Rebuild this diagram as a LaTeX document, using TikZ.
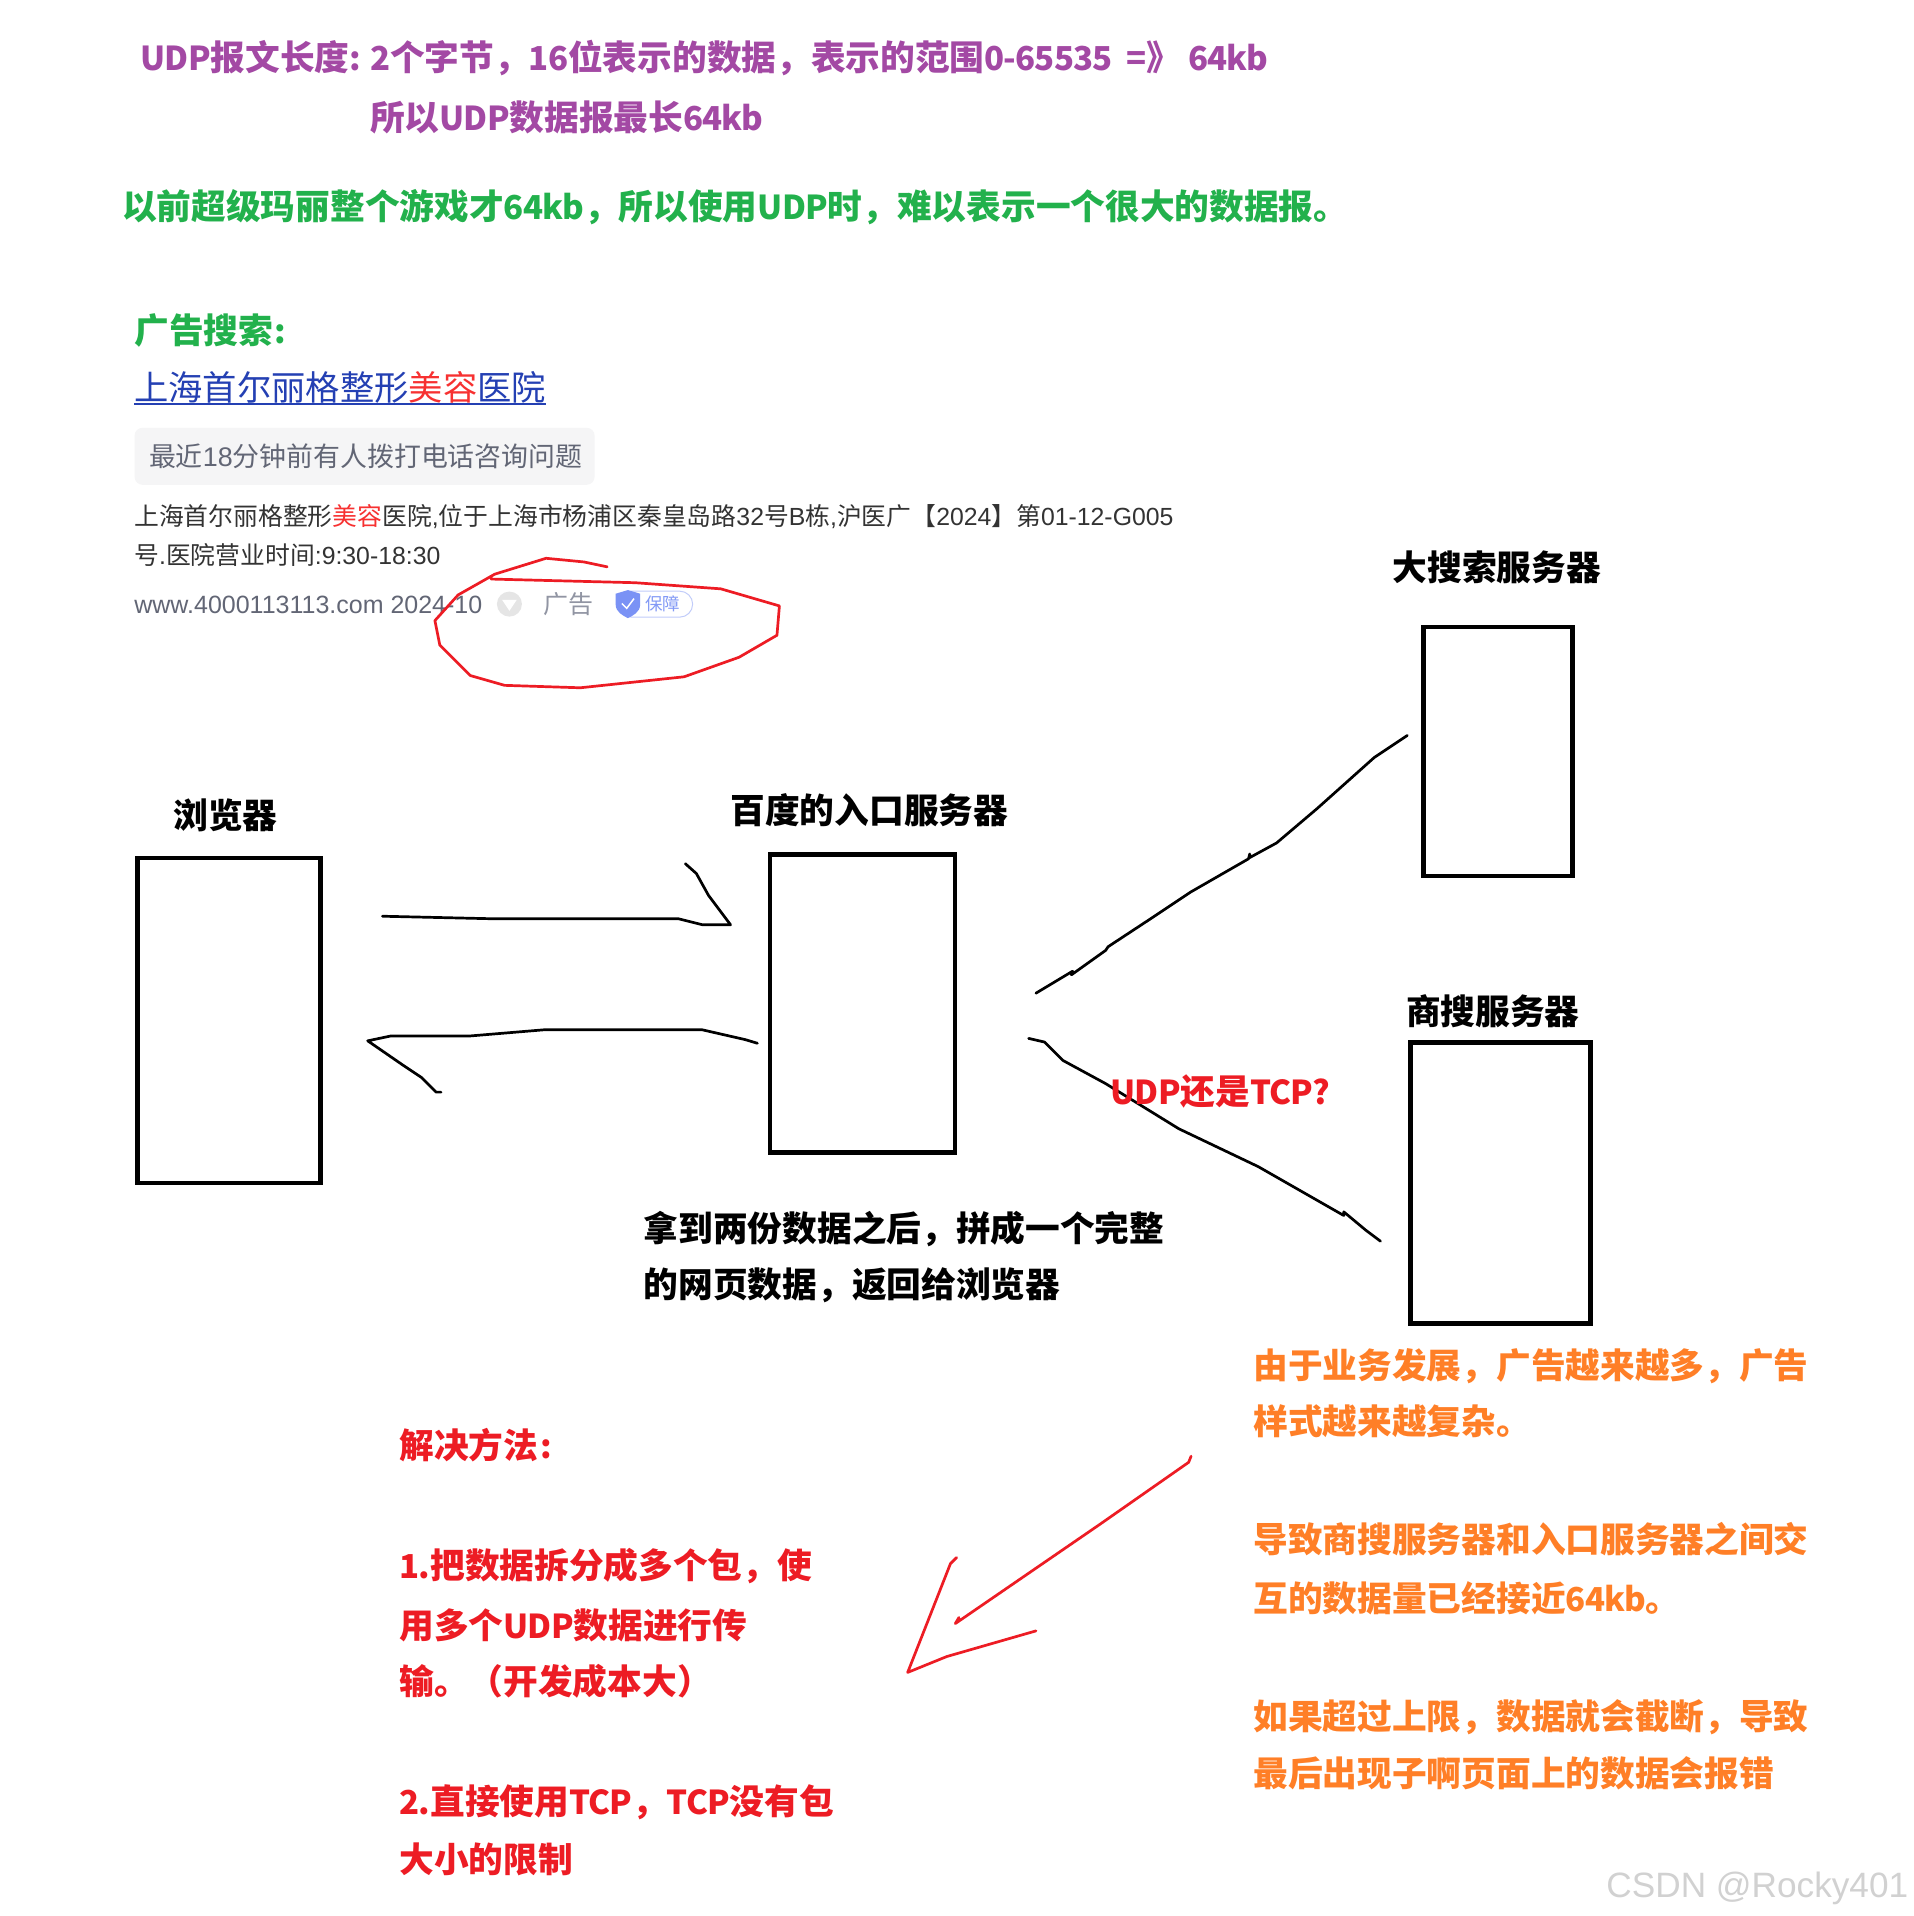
\documentclass[tikz,border=0pt]{standalone}
\usepackage{fontspec}
\setmainfont{Noto Sans CJK SC}
\newfontfamily\latinfont{Liberation Sans}
\newfontfamily\ltfont[Scale=0.95,LetterSpace=-2.5]{Noto Sans CJK SC}
\newcommand{\lb}[1]{{\ltfont\bfseries #1}}
\newcommand{\lr}[1]{{\latinfont #1}}
\definecolor{cpurple}{HTML}{A349A4}
\definecolor{cgreen}{HTML}{22B14C}
\definecolor{corange}{HTML}{FF7F27}
\definecolor{cred}{HTML}{ED1C24}
\definecolor{clink}{HTML}{2440B3}
\definecolor{chot}{HTML}{F73131}
\definecolor{cbody}{HTML}{333333}
\definecolor{cgrey}{HTML}{626675}
\definecolor{cpale}{HTML}{9195A3}
\definecolor{cpill}{HTML}{F5F5F6}
\definecolor{cshield}{HTML}{4E6EF2}
\newcommand{\bigfont}{\fontsize{34.7}{40}\selectfont\bfseries}
\tikzset{
  txt/.style={anchor=base west,inner sep=0pt,outer sep=0pt},
  heading/.style={txt,font=\bigfont},
  purpletext/.style={heading,text=cpurple},
  greentext/.style={heading,text=cgreen},
  blacktext/.style={heading,text=black},
  orangetext/.style={heading,text=corange},
  redtext/.style={heading,text=cred},
  server/.style={draw=black,line width=4.6pt,fill=white},
  inkblack/.style={draw=black,line width=2.7pt,line join=round,line cap=round},
  inkred/.style={draw=cred,line width=2.7pt,line join=round,line cap=round},
  small/.style={txt,font=\fontsize{24.8}{30}\selectfont,text=cbody},
}
\begin{document}
\begin{tikzpicture}[x=1.2216pt,y=-1.2216pt]
\useasboundingbox (0,0) rectangle (1566,1568.4);
\fill[white] (0,0) rectangle (1566,1568.4);

% top notes
\node[purpletext] (t1) at (115,58) {\lb{UDP}报文长度\lb{: 2}个字节，\lb{16}位表示的数据，表示的范围\lb{0-65535}\hspace{7pt}\lb{ =}》\hspace{7pt}\lb{64kb}};
\node[purpletext] (t2) at (303,107) {所以\lb{UDP}数据报最长\lb{64kb}};
\node[greentext] (t3) at (100,180) {以前超级玛丽整个游戏才\lb{64kb}，所以使用\lb{UDP}时，难以表示一个很大的数据报。};

% search advert
\node[greentext] (adhead) at (110,281) {广告搜索\lb{\hspace{1pt}:}};
\node[txt,font=\fontsize{34.3}{40}\selectfont,text=clink] (adlink) at (110,328)
  {上海首尔丽格整形\textcolor{chot}{美容}医院};
\coordinate (ulL) at (110,330.5);
\coordinate (ulR) at (447,330.5);
\draw[clink,line width=2pt] (ulL) -- (ulR);
\node[fill=cpill,rounded corners=8pt,anchor=north west,minimum width=460pt,minimum height=57pt,inner sep=0pt] (adpill) at (110,350) {};
\node[txt,font=\fontsize{26.9}{32}\selectfont,text=cgrey] (adrecent) at (122,382) {最近\lr{18}分钟前有人拨打电话咨询问题};
\node[small] (adbody1) at (110,430) {上海首尔丽格整形\textcolor{chot}{美容}医院\lr{,}位于上海市杨浦区秦皇岛路\lr{32}号\lr{B}栋\lr{,}沪医广【\lr{2024}】第\lr{01-12-G005}};
\node[small] (adbody2) at (110,462) {号\lr{.}医院营业时间\lr{:9:30-18:30}};
\node[txt,font=\latinfont\fontsize{25}{30}\selectfont,text=cgrey] (adurl) at (110,502) {www.4000113113.com 2024-10};
\node[circle,fill=black!10,minimum size=25pt,inner sep=0pt] (addrop) at (417,494.5) {};
\fill[white] (411,491) -- (423,491) -- (417,500) -- cycle;
\node[txt,font=\fontsize{25}{30}\selectfont,text=cpale] (adtag) at (445,502) {广告};
\node[draw=cshield!35,rounded corners=13pt,line width=1pt,anchor=north west,minimum width=74pt,minimum height=26pt,inner sep=0pt] (adguard) at (506,483.5) {};
\fill[cshield!75] (504,486) -- (514,483) -- (524,486) -- (524,495) .. controls (524,501) and (518,504) .. (514,506) .. controls (510,504) and (504,501) .. (504,495) -- cycle;
\draw[white,line width=1.5pt] (509,494) -- (513,498) -- (519,490);
\node[txt,font=\fontsize{17.5}{20}\selectfont,text=cshield!70] (adguardtxt) at (528,500) {保障};

% red loop
\coordinate (loopA) at (497,464);
\coordinate (loopB) at (402,474);
\draw[inkred] (loopA) -- (478,460) -- (447,457) -- (405,470) -- (375,487) -- (356,508) -- (360,528) -- (385,553) -- (413,561) -- (475,563) -- (560,554) -- (605,538) -- (636,520) -- (638,496) -- (590,482) -- (520,477) -- (loopB);

% servers
\node[server,anchor=north west,minimum width=183pt,minimum height=325pt,inner sep=0pt] (browser) at (110.5,700.5) {};
\node[server,anchor=north west,minimum width=185pt,minimum height=298pt,inner sep=0pt] (entry) at (628.5,697.5) {};
\node[server,anchor=north west,minimum width=149pt,minimum height=249pt,inner sep=0pt] (bigsearch) at (1163.5,511.5) {};
\node[server,anchor=north west,minimum width=180pt,minimum height=281pt,inner sep=0pt] (adsearch) at (1152.5,851.5) {};

\node[blacktext] (lbrowser) at (142,678) {浏览器};
\node[blacktext] (lentry) at (598,674) {百度的入口服务器};
\node[blacktext] (lbig) at (1140,475) {大搜索服务器};
\node[blacktext] (lad) at (1151,839) {商搜服务器};

% hand-drawn connectors
\coordinate (a1s) at (313,750);
\coordinate (a1e) at (561,707);
\draw[inkblack] (a1s) -- (400,752) -- (555,752) -- (575,757) -- (598,757) -- (580,733) -- (570,715) -- (a1e);
\coordinate (a2s) at (620,854);
\coordinate (a2e) at (361,894);
\draw[inkblack] (a2s) -- (610,851) -- (575,843) -- (500,843) -- (445,843) -- (385,848) -- (320,848) -- (301,852) -- (330,872) -- (345,882) -- (357,894) -- (a2e);
\coordinate (l1s) at (848,813);
\coordinate (l1e) at (1152,602);
\draw[inkblack] (l1s) -- (878,795) -- (877,798) -- (905,778) -- (907,775) -- (945,750) -- (975,730) -- (1022,703) -- (1023,699) -- (1023,702) -- (1045,690) -- (1078,662) -- (1125,620) -- (l1e);
\coordinate (l2s) at (842,850);
\coordinate (l2e) at (1130,1016);
\draw[inkblack] (l2s) -- (855,853) -- (870,868) -- (905,887) -- (965,924) -- (1030,955) -- (1100,995) -- (1100,992) -- (1118,1007) -- (l2e);

\node[redtext] (proto) at (909,904) {\lb{UDP}还是\lb{TCP?}};

\node[blacktext] (merge1) at (527,1016) {拿到两份数据之后，拼成一个完整};
\node[blacktext] (merge2) at (527,1062) {的网页数据，返回给浏览器};

\node[orangetext] (o1) at (1026,1128) {由于业务发展，广告越来越多，广告};
\node[orangetext] (o2) at (1026,1174) {样式越来越复杂。};
\node[orangetext] (o3) at (1026,1271) {导致商搜服务器和入口服务器之间交};
\node[orangetext] (o4) at (1026,1319) {互的数据量已经接近\lb{64kb}。};
\node[orangetext] (o5) at (1026,1416) {如果超过上限，数据就会截断，导致};
\node[orangetext] (o6) at (1026,1462) {最后出现子啊页面上的数据会报错};

\node[redtext] (r0) at (327,1194) {解决方法\lb{\hspace{2pt}:}};
\node[redtext] (r1) at (327,1292) {\lb{1.}把数据拆分成多个包，使};
\node[redtext] (r2) at (327,1341) {用多个\lb{UDP}数据进行传};
\node[redtext] (r3) at (327,1387) {输。（开发成本大）};
\node[redtext] (r4) at (327,1485) {\lb{2.}直接使用\lb{TCP}，\lb{TCP}没有包};
\node[redtext] (r5) at (327,1533) {大小的限制};

% red arrow
\coordinate (ra1) at (975,1192);
\coordinate (ra2) at (785,1324);
\draw[inkred] (ra1) -- (973,1197) -- (900,1248) -- (782,1329) -- (ra2);
\coordinate (rh1) at (783,1275);
\coordinate (rh2) at (848,1335);
\draw[inkred] (rh1) -- (778,1280) -- (743,1369) -- (775,1356) -- (rh2);

\node[txt,font=\latinfont\fontsize{35.2}{40}\selectfont,text=black!18] (wm) at (1315,1553) {CSDN @Rocky401};
\end{tikzpicture}
\end{document}
